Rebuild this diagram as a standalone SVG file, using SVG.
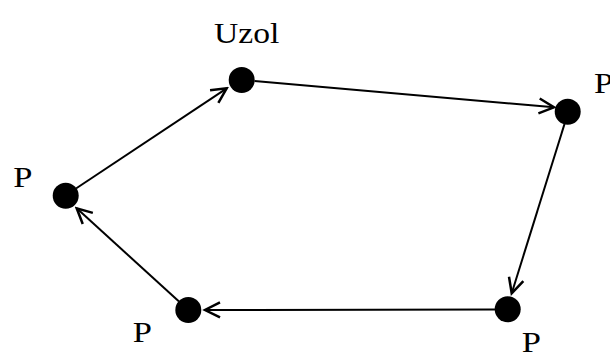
<svg xmlns="http://www.w3.org/2000/svg" width="610" height="354" viewBox="0 0 610 354">
<defs>
<style>
.edge{stroke:#000;stroke-width:2;fill:none;marker-end:url(#arr)}
.node{fill:#000}
.lbl{font-family:"Times New Roman","Liberation Serif",serif;font-size:30px;fill:#000}
</style>
<marker id="arr" markerUnits="userSpaceOnUse" markerWidth="20" markerHeight="20" viewBox="-14 -8 16 16" refX="0" refY="0" orient="auto">
<path d="M-12,-6 L0,0 L-12,6" fill="none" stroke="#000" stroke-width="2"/>
</marker>
</defs>
<rect width="610" height="354" fill="#fff"/>
<g id="connectors">
<line class="edge" x1="76" y1="188.5" x2="226.7" y2="88.3"/>
<line class="edge" x1="254.5" y1="81" x2="554" y2="107.3"/>
<line class="edge" x1="564.5" y1="124" x2="511.7" y2="293.3"/>
<line class="edge" x1="495" y1="309.5" x2="205" y2="310"/>
<line class="edge" x1="179" y1="301.5" x2="76.7" y2="208.3"/>
</g>
<g id="node-uzol">
<circle class="node" cx="241.7" cy="80" r="13"/>
<text class="lbl" x="214" y="42.7" transform="translate(214 0) scale(1.12 1) translate(-214 0)">Uzol</text>
</g>
<g id="node-right">
<circle class="node" cx="567.7" cy="111.7" r="13"/>
<text class="lbl" x="594" y="93" transform="translate(594 0) scale(1.15 1) translate(-594 0)">P</text>
</g>
<g id="node-bottom-right">
<circle class="node" cx="507.7" cy="309.3" r="13"/>
<text class="lbl" x="521.7" y="352.5" transform="translate(521.7 0) scale(1.15 1) translate(-521.7 0)">P</text>
</g>
<g id="node-bottom-left">
<circle class="node" cx="188.3" cy="310" r="13"/>
<text class="lbl" x="132.7" y="341.7" transform="translate(132.7 0) scale(1.15 1) translate(-132.7 0)">P</text>
</g>
<g id="node-left">
<circle class="node" cx="65.7" cy="195.7" r="13"/>
<text class="lbl" x="13.3" y="187" transform="translate(13.3 0) scale(1.15 1) translate(-13.3 0)">P</text>
</g>
</svg>
